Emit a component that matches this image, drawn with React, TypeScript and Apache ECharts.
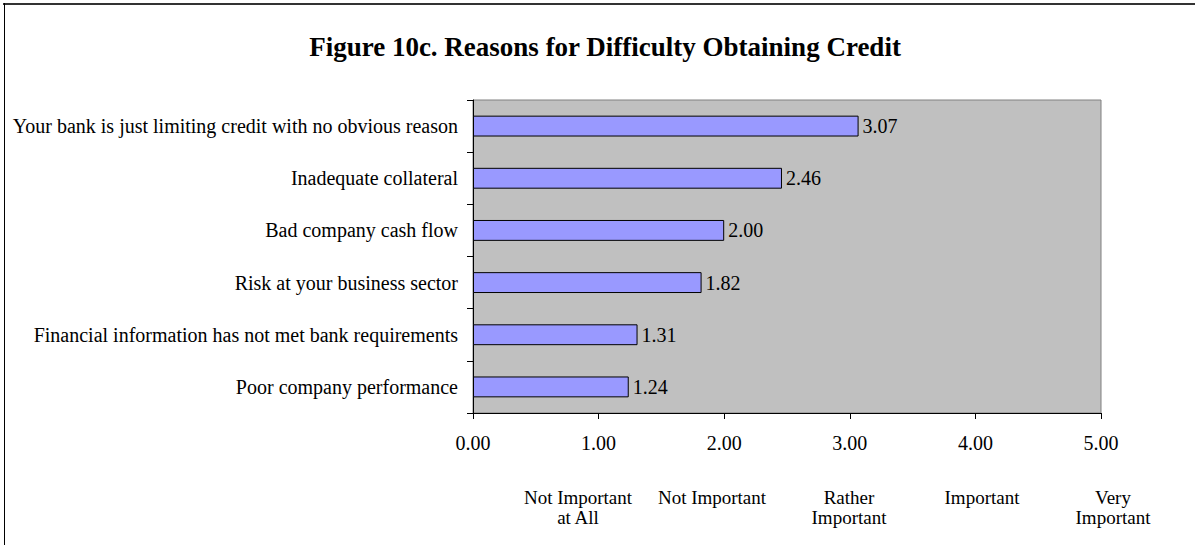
import React, { useEffect, useRef } from "react";
import * as echarts from "echarts";

const categories = [
  "Your bank is just limiting credit with no obvious reason",
  "Inadequate collateral",
  "Bad company cash flow",
  "Risk at your business sector",
  "Financial information has not met bank requirements",
  "Poor company performance",
];
const values = [3.07, 2.46, 2.0, 1.82, 1.31, 1.24];
const scaleLabels = ["Not Important\nat All", "Not Important", "Rather\nImportant", "Important", "Very\nImportant"];
const scaleLabelX = [578, 712, 849, 982, 1113];

const FONT = "'Liberation Serif', 'Times New Roman', serif";

export default function App() {
  const ref = useRef<HTMLDivElement>(null);
  useEffect(() => {
    if (!ref.current) return;
    const chart = echarts.init(ref.current, null, { renderer: "svg" });
    chart.setOption({
      animation: false,
      backgroundColor: "#ffffff",
      textStyle: { fontFamily: FONT },
      title: {
        text: "Figure 10c. Reasons for Difficulty Obtaining Credit",
        left: 600,
        top: 28,
        textAlign: "center",
        textStyle: { fontFamily: FONT, fontWeight: "bold", fontSize: 27, color: "#000" },
      },
      grid: { left: 473, top: 100, width: 628, height: 313, show: true, backgroundColor: "#C0C0C0", borderColor: "#808080", borderWidth: 1 },
      xAxis: {
        type: "value",
        min: 0,
        max: 5,
        interval: 1,
        axisLine: { show: true, lineStyle: { color: "#000", width: 1 } },
        axisTick: { show: true, length: 6, lineStyle: { color: "#000" } },
        splitLine: { show: false },
        axisLabel: { fontFamily: FONT, fontSize: 20, color: "#000", margin: 20, formatter: (v: number) => v.toFixed(2) },
      },
      yAxis: {
        type: "category",
        inverse: true,
        data: categories,
        axisLine: { show: true, lineStyle: { color: "#000", width: 1 } },
        axisTick: { show: true, length: 6, lineStyle: { color: "#000" } },
        axisLabel: { fontFamily: FONT, fontSize: 20, color: "#000", margin: 15 },
      },
      series: [
        {
          type: "bar",
          data: values,
          barWidth: "40%",
          itemStyle: { color: "#9999FF", borderColor: "#000", borderWidth: 1 },
          label: { show: true, position: "right", distance: 4, fontFamily: FONT, fontSize: 20, color: "#000", formatter: (p: any) => Number(p.value).toFixed(2) },
        },
      ],
      graphic: [
        { type: "line", shape: { x1: 3, y1: 4, x2: 1195, y2: 4 }, style: { stroke: "#333", lineWidth: 2 } },
        { type: "line", shape: { x1: 4.5, y1: 3, x2: 4.5, y2: 545 }, style: { stroke: "#000", lineWidth: 1 } },
        ...scaleLabels.map((t, i) => ({
          type: "text",
          x: scaleLabelX[i],
          y: 487,
          style: { text: t, fontFamily: FONT, fontSize: 19, fill: "#000", align: "center", verticalAlign: "top", lineHeight: 20 },
        })),
      ],
    });
    return () => chart.dispose();
  }, []);
  return <div ref={ref} style={{ position: "fixed", left: 0, top: 0, width: 1195, height: 545 }} />;
}
